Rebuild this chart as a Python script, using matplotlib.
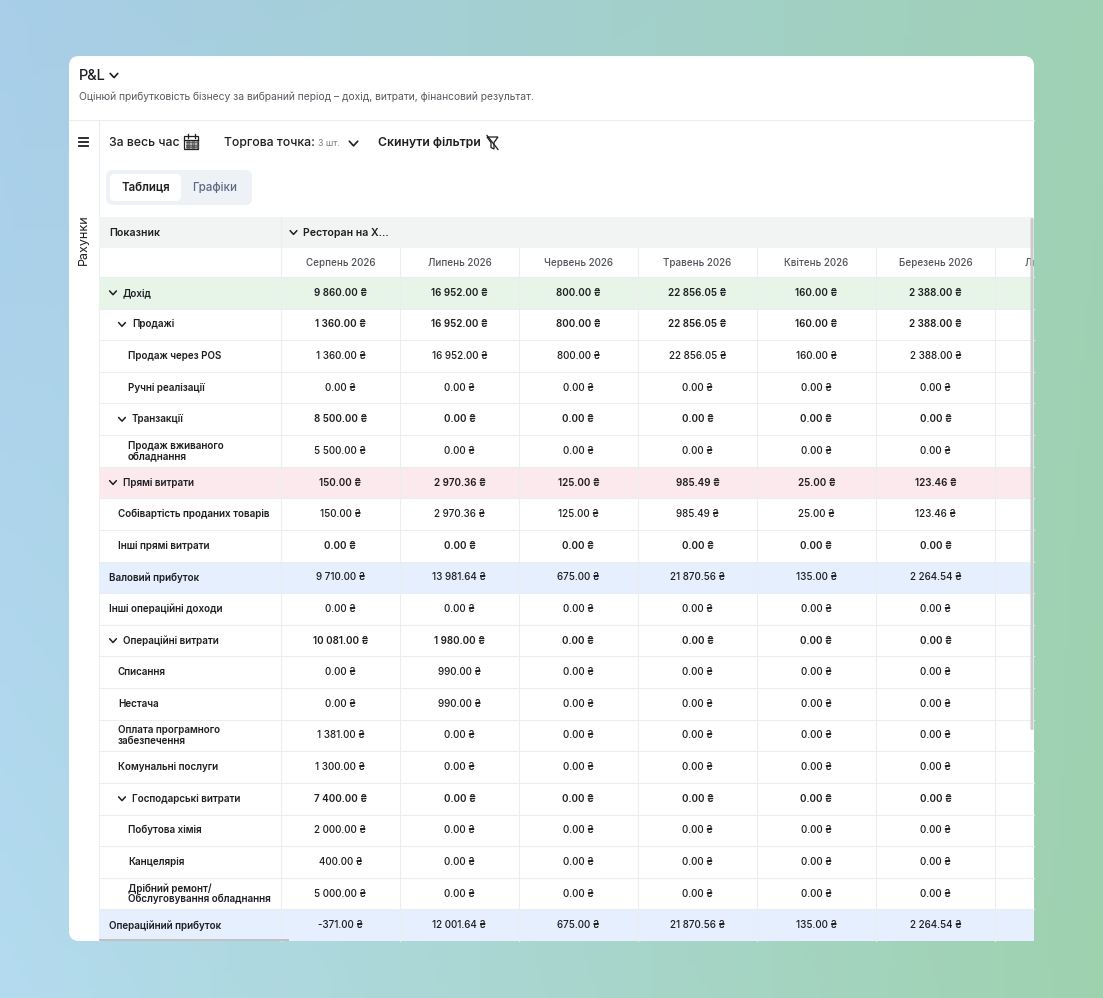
import numpy as np
import matplotlib
matplotlib.use("Agg")
import matplotlib.pyplot as plt
from matplotlib.patches import FancyBboxPatch, Rectangle, Polygon

plt.rcParams['font.family'] = ['Inter', 'DejaVu Sans']

# ---- data ----
months = ["Серпень 2026", "Липень 2026", "Червень 2026", "Травень 2026",
          "Квітень 2026", "Березень 2026", "Лютий 2026"]

row_labels = ["Дохід", "Продажі", "Продаж через POS", "Ручні реалізації", "Транзакції",
              "Продаж вживаного\nобладнання", "Прямі витрати", "Собівартість проданих товарів",
              "Інші прямі витрати", "Валовий прибуток", "Інші операційні доходи",
              "Операційні витрати", "Списання", "Нестача", "Оплата програмного\nзабезпечення",
              "Комунальні послуги", "Господарські витрати", "Побутова хімія", "Канцелярія",
              "Дрібний ремонт/\nОбслуговування обладнання", "Операційний прибуток"]
row_level = [0, 1, 2, 2, 1, 2, 0, 1, 1, 0, 0, 0, 1, 1, 1, 1, 1, 2, 2, 2, 0]
row_group = [1, 1, 0, 0, 1, 0, 1, 0, 0, 0, 0, 1, 0, 0, 0, 0, 1, 0, 0, 0, 0]
row_kind = ["income", "", "", "", "", "", "cost", "", "", "profit", "", "", "", "", "",
            "", "", "", "", "", "profit"]

aug_2026 = [9860.00, 1360.00, 1360.00, 0, 8500.00, 5500.00, 150.00, 150.00, 0, 9710.00, 0,
            10081.00, 0, 0, 1381.00, 1300.00, 7400.00, 2000.00, 400.00, 5000.00, -371.00]
jul_2026 = [16952.00, 16952.00, 16952.00, 0, 0, 0, 2970.36, 2970.36, 0, 13981.64, 0,
            1980.00, 990.00, 990.00, 0, 0, 0, 0, 0, 0, 12001.64]
jun_2026 = [800.00, 800.00, 800.00, 0, 0, 0, 125.00, 125.00, 0, 675.00, 0,
            0, 0, 0, 0, 0, 0, 0, 0, 0, 675.00]
may_2026 = [22856.05, 22856.05, 22856.05, 0, 0, 0, 985.49, 985.49, 0, 21870.56, 0,
            0, 0, 0, 0, 0, 0, 0, 0, 0, 21870.56]
apr_2026 = [160.00, 160.00, 160.00, 0, 0, 0, 25.00, 25.00, 0, 135.00, 0,
            0, 0, 0, 0, 0, 0, 0, 0, 0, 135.00]
mar_2026 = [2388.00, 2388.00, 2388.00, 0, 0, 0, 123.46, 123.46, 0, 2264.54, 0,
            0, 0, 0, 0, 0, 0, 0, 0, 0, 2264.54]
columns = [aug_2026, jul_2026, jun_2026, may_2026, apr_2026, mar_2026]


def money(v):
    return f"{v:,.2f}".replace(",", " ") + " ₴"


# ---- canvas ----
W, H = 1103, 998
fig = plt.figure(figsize=(W / 100, H / 100), dpi=100)
ax = fig.add_axes([0, 0, 1, 1])
ax.set_xlim(0, W)
ax.set_ylim(H, 0)
ax.axis('off')

# background gradient blue -> green
xx, yy = np.meshgrid(np.linspace(0, 1, 200), np.linspace(0, 1, 200))
t = np.clip(0.8 * xx + 0.1 * yy, 0, 1)[..., None]
c0 = np.array([168, 206, 233]) / 255
c1 = np.array([157, 210, 168]) / 255
bg = c0 * (1 - t) + c1 * t
bg = bg + 0.05 * (yy * (1 - xx))[..., None]  # lighter towards bottom-left
ax.imshow(np.clip(bg, 0, 1), extent=(0, W, H, 0), aspect='auto', zorder=0)

# card
cx0, cy0, cx1, cy1 = 69, 56, 1034, 941
card = FancyBboxPatch((cx0, cy0), cx1 - cx0, cy1 - cy0,
                      boxstyle="round,pad=0,rounding_size=10",
                      fc='white', ec='none', zorder=1)
ax.add_patch(card)

dark = '#1e1f22'
grid = '#ebedee'


def chevron(x, y, s=3.6, lw=1.2, color=dark):
    ax.plot([x - s, x, x + s], [y - s * 0.55, y + s * 0.55, y - s * 0.55],
            color=color, lw=lw, solid_capstyle='round', solid_joinstyle='round', zorder=6)


# title + subtitle
ax.text(79, 76, "P&L", fontsize=10.5, fontweight='medium', color=dark, va='center', zorder=5)
chevron(114, 75.5, s=3.8, lw=1.2)
ax.text(79, 96.5, "Оцінюй прибутковість бізнесу за вибраний період – дохід, витрати, фінансовий результат.",
        fontsize=7.4, color='#555a60', va='center', zorder=5)
ax.plot([cx0, cx1], [120, 120], color=grid, lw=0.8, zorder=2)
ax.plot([98.5, 98.5], [120, cy1], color=grid, lw=0.8, zorder=2)

# sidebar
for yy_ in (137.5, 141.5, 145.5):
    ax.plot([79, 88], [yy_, yy_], color=dark, lw=1.3, zorder=5)
ax.text(84, 240, "Рахунки", fontsize=9, rotation=90, color=dark, ha='center', va='center', zorder=5)

# filters row
ax.text(109, 143, "За весь час", fontsize=8.8, fontweight='medium', color=dark, va='center', zorder=5)
ax.add_patch(Rectangle((184, 136), 14, 13, fc='none', ec=dark, lw=0.9, zorder=5))
ax.plot([184, 198], [139.5, 139.5], color=dark, lw=0.9, zorder=5)
for gx in np.arange(186.5, 197, 2.5):
    for gy in (142, 144.5, 147):
        ax.plot(gx, gy, 's', ms=0.9, color='#555', zorder=5)
for tx in (187.5, 194.5):
    ax.plot([tx, tx], [134, 137.5], color=dark, lw=0.9, zorder=5)
ax.text(224, 143, "Торгова точка:", fontsize=8.8, fontweight='medium', color=dark, va='center', zorder=5)
ax.text(318, 143.5, "3 шт.", fontsize=6.4, color='#7a7f85', va='center', zorder=5)
chevron(353.5, 143.5, s=4.2, lw=1.2)
ax.text(378, 143, "Скинути фільтри", fontsize=8.8, fontweight='semibold', color=dark, va='center', zorder=5)
ax.add_patch(Polygon([[487, 137], [498, 137], [494, 142.5], [494, 149], [491, 147.5], [491, 142.5]],
                     closed=True, fc='none', ec=dark, lw=0.9, zorder=5))
ax.plot([487, 498], [135.5, 149.5], color=dark, lw=0.9, zorder=5)

# tabs
ax.add_patch(FancyBboxPatch((106, 170), 146, 35, boxstyle="round,pad=0,rounding_size=7",
                            fc='#eef1f5', ec='none', zorder=2))
ax.add_patch(FancyBboxPatch((110, 174), 71, 27, boxstyle="round,pad=0,rounding_size=5",
                            fc='white', ec='none', zorder=3))
ax.text(145.5, 187.5, "Таблиця", fontsize=8.3, fontweight='semibold', color=dark,
        ha='center', va='center', zorder=5)
ax.text(215, 187.5, "Графіки", fontsize=8.3, fontweight='medium', color='#5b6b85',
        ha='center', va='center', zorder=5)

# ---- table ----
tx0, tx1 = 99, 1034
h1_top, h1_bot = 217, 248
h2_bot = 277
n_rows = len(row_labels)
row_h = (cy1 - h2_bot) / n_rows
first_x = 281
col_w = 119
col_edges = [first_x + col_w * i for i in range(len(months) + 1)]
clip = Rectangle((tx0, h1_top), tx1 - tx0, cy1 - h1_top, transform=ax.transData)

ax.add_patch(Rectangle((tx0, h1_top), tx1 - tx0, h1_bot - h1_top, fc='#f2f4f3', ec='none', zorder=2))
ax.text(109, 232.5, "Показник", fontsize=7.6, fontweight='semibold', color=dark, va='center', zorder=5)
chevron(293.5, 232.5, s=3.4, lw=1.1)
ax.text(303, 232.5, "Ресторан на Х...", fontsize=7.6, fontweight='semibold', color=dark,
        va='center', zorder=5)

kind_color = {"income": '#e7f5e9', "cost": '#fbe9ed', "profit": '#e5effd'}
bottom = h2_bot + row_h * n_rows
for i in range(n_rows):
    top = h2_bot + row_h * i
    if row_kind[i]:
        ax.add_patch(Rectangle((tx0, top), tx1 - tx0, row_h, fc=kind_color[row_kind[i]],
                               ec='none', zorder=2))
    ax.plot([tx0, tx1], [top, top], color=grid, lw=0.8, zorder=3)

# vertical grid lines
ax.plot([first_x, first_x], [h1_top, bottom], color=grid, lw=0.8, zorder=3)
for x in col_edges[1:-1]:
    ax.plot([x, x], [h1_bot, bottom], color=grid, lw=0.8, zorder=3)

# month headers (last one is cut by the table edge)
for j, m in enumerate(months):
    cxm = (col_edges[j] + col_edges[j + 1]) / 2
    txt = ax.text(cxm, 263.5, m, fontsize=7.1, fontweight='medium', color='#505459',
                  ha='center', va='center', zorder=5, clip_on=True)
    txt.set_clip_path(clip)

# rows
indent_plain = {0: 109, 1: 118, 2: 128}
indent_group = {0: 123, 1: 132}
chev_x = {0: 113, 1: 122}
for i, lab in enumerate(row_labels):
    cy = h2_bot + row_h * i + row_h / 2
    lvl = row_level[i]
    if row_group[i]:
        chevron(chev_x[lvl], cy, s=3.4, lw=1.1)
        x = indent_group[lvl]
    else:
        x = indent_plain[lvl]
    ax.text(x, cy, lab, fontsize=7.1, fontweight='semibold', color=dark, va='center',
            linespacing=1.05, zorder=5)
    wt = 'semibold' if row_group[i] or i == 8 else 'medium'
    for j, col in enumerate(columns):
        cxm = (col_edges[j] + col_edges[j + 1]) / 2
        ax.text(cxm, cy, money(col[i]), fontsize=7.1, fontweight=wt, color=dark,
                ha='center', va='center', zorder=5)

# scrollbars
ax.add_patch(FancyBboxPatch((1030.5, 218), 3, 512, boxstyle="round,pad=0,rounding_size=1.5",
                            fc='#c9cbcd', ec='none', zorder=6))
ax.add_patch(Rectangle((99, 938.5), 190, 2.5, fc='#bfc1c3', ec='none', zorder=6))

fig.savefig('out.png', dpi=100)
